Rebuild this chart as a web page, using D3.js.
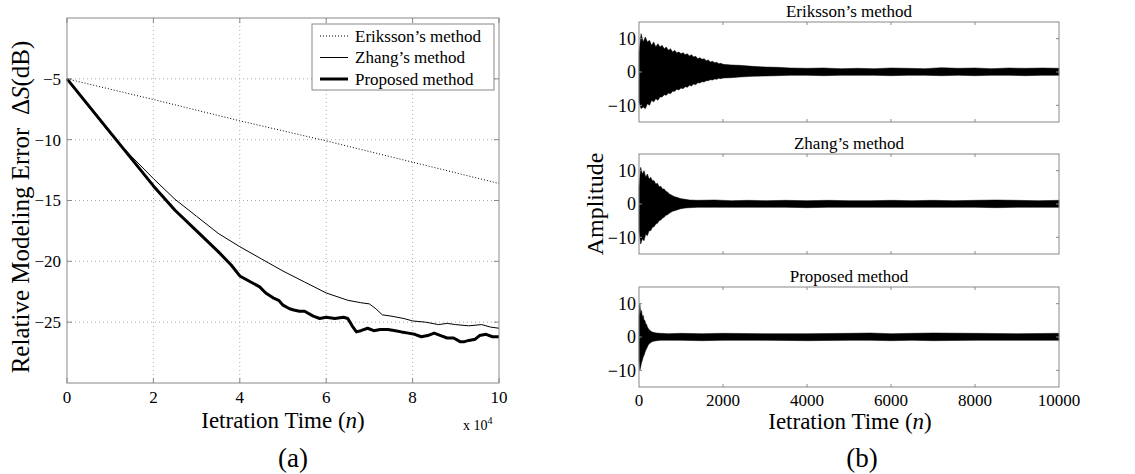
<!DOCTYPE html>
<html>
<head>
<meta charset="utf-8">
<script src="https://cdn.jsdelivr.net/npm/d3@7"></script>
<style>
  body { margin: 0; background: #fff; }
  text { font-family: "Liberation Serif", "Times New Roman", serif; fill: #000; }
</style>
</head>
<body>
<div id="chart"></div>
<script>
// ---- data (a): relative modeling error, x in units of 10^4 iterations
var erikX = [0, 2, 4, 6, 8, 10];
var erikY = [-5, -6.7, -8.45, -10.1, -11.85, -13.6];

var zhangX = [0, 0.5, 1, 1.5, 2, 2.5, 3, 3.5, 4, 4.5, 5, 5.5, 6, 6.5, 6.8, 7.0, 7.15, 7.3, 7.5, 7.8, 8.0, 8.3, 8.6, 8.8, 9.0, 9.3, 9.6, 9.8, 10];
var zhangY = [-5, -7.3, -9.5, -11.4, -13.2, -14.9, -16.3, -17.7, -18.8, -19.8, -20.8, -21.7, -22.6, -23.2, -23.4, -23.5, -23.9, -24.4, -24.5, -24.7, -24.9, -25.0, -25.2, -25.1, -25.2, -25.3, -25.2, -25.4, -25.5];

var propX = [0, 0.5, 1, 1.5, 2, 2.5, 3, 3.5, 3.8, 4.0, 4.2, 4.46, 4.6, 4.77, 4.9, 5.0, 5.15, 5.25, 5.38, 5.5, 5.7, 5.85, 6.0, 6.2, 6.4, 6.5, 6.6, 6.7, 6.8, 6.96, 7.1, 7.25, 7.43, 7.6, 7.74, 7.9, 8.05, 8.2, 8.35, 8.5, 8.65, 8.8, 8.95, 9.1, 9.2, 9.3, 9.45, 9.55, 9.7, 9.85, 10];
var propY = [-5, -7.2, -9.4, -11.6, -13.8, -15.8, -17.5, -19.2, -20.3, -21.2, -21.6, -22.1, -22.6, -23.0, -23.2, -23.6, -23.9, -24.0, -24.1, -24.1, -24.5, -24.7, -24.6, -24.7, -24.6, -24.7, -25.3, -25.8, -25.7, -25.5, -25.7, -25.6, -25.6, -25.7, -25.8, -25.9, -26.0, -26.2, -26.1, -25.9, -26.1, -26.3, -26.3, -26.6, -26.6, -26.5, -26.4, -26.1, -26.0, -26.2, -26.2];

var xTicksA = [0, 2, 4, 6, 8, 10];
var yTicksA = [-5, -10, -15, -20, -25];
var legendNames = ["Eriksson\u2019s method", "Zhang\u2019s method", "Proposed method"];

// ---- data (b): residual error signal envelopes (max / min per stretch of samples)
var panelTitles = ["Eriksson\u2019s method", "Zhang\u2019s method", "Proposed method"];

var erikEnvN  = [0, 50, 100, 150, 200, 250, 300, 350, 400, 450, 500, 550, 600, 650, 700, 750, 800, 850, 900, 950, 1000, 1050, 1100, 1150, 1200, 1250, 1300, 1350, 1400, 1450, 1500, 1550, 1600, 1650, 1700, 1750, 1800, 1850, 1900, 1950, 2000, 2200, 2400, 2700, 3000, 3300, 3600, 4000, 4400, 4800, 5200, 5600, 6000, 6400, 6800, 7200, 7600, 8000, 8400, 8800, 9200, 9600, 10000];
var erikEnvHi = [6, 11.5, 9, 10.5, 9, 9.5, 8, 9, 7.5, 8.5, 7.5, 8, 7, 7.5, 6.5, 7, 6, 6.5, 5.8, 6, 5.5, 5.8, 5.2, 5.5, 4.8, 5.2, 4.5, 4.7, 4.0, 4.3, 3.8, 4.0, 3.4, 3.6, 3.0, 3.2, 2.8, 2.9, 2.5, 2.6, 2.3, 2.1, 2.0, 1.7, 1.5, 1.4, 1.2, 1.1, 1.2, 1.0, 1.1, 1.0, 1.2, 1.1, 1.0, 1.3, 1.1, 1.2, 1.0, 1.2, 1.1, 1.2, 1.1];
var erikEnvLo = [-9, -11, -10.5, -11, -9.5, -10, -8.5, -9, -8, -8.5, -7.5, -7.5, -6.8, -7, -6.3, -6.5, -5.8, -5.8, -5.2, -5.4, -4.8, -5, -4.4, -4.6, -4.0, -4.2, -3.6, -3.8, -3.2, -3.3, -2.9, -3.0, -2.6, -2.6, -2.3, -2.4, -2.1, -2.2, -1.9, -2.0, -1.8, -1.7, -1.5, -1.3, -1.2, -1.1, -1.0, -1.0, -1.1, -1.0, -1.0, -1.0, -1.1, -1.0, -1.0, -1.1, -1.0, -1.1, -1.0, -1.0, -1.1, -1.0, -1.0];

var zhangEnvN  = [0, 40, 80, 120, 160, 200, 240, 280, 320, 360, 400, 440, 480, 520, 560, 600, 640, 680, 720, 760, 800, 850, 900, 950, 1000, 1100, 1200, 1400, 1800, 2200, 2600, 3000, 3500, 4000, 4500, 5000, 5500, 6000, 6500, 7000, 7500, 8000, 8500, 9000, 9500, 10000];
var zhangEnvHi = [5, 11, 9, 10, 8, 9, 7.5, 8, 7, 7, 6, 6.2, 5.2, 5.3, 4.5, 4.5, 3.8, 3.6, 3.0, 2.8, 2.5, 2.2, 2.0, 1.8, 1.6, 1.4, 1.2, 1.1, 1.2, 1.0, 1.1, 1.0, 1.1, 1.0, 1.1, 1.0, 1.0, 1.1, 1.0, 1.1, 1.0, 1.1, 1.2, 1.1, 1.0, 1.1];
var zhangEnvLo = [-8, -12, -10.5, -11, -9, -9.5, -8, -8, -7, -6.8, -6, -5.8, -5, -4.8, -4.2, -4, -3.4, -3.2, -2.8, -2.5, -2.2, -2.0, -1.8, -1.6, -1.4, -1.2, -1.1, -1.0, -1.0, -1.0, -1.0, -1.0, -1.0, -1.1, -1.0, -1.0, -1.0, -1.0, -1.0, -1.0, -1.0, -1.0, -1.1, -1.0, -1.0, -1.0];

var propEnvN  = [0, 20, 40, 60, 80, 100, 120, 140, 160, 180, 200, 220, 240, 260, 280, 300, 340, 380, 420, 500, 700, 1000, 1500, 2000, 3000, 4000, 5000, 5500, 6000, 6500, 7000, 8000, 9000, 10000];
var propEnvHi = [6, 10, 7, 8, 6, 6.5, 5, 5, 4, 3.8, 3, 2.6, 2.2, 2, 1.8, 1.6, 1.4, 1.3, 1.2, 1.1, 1.0, 1.1, 1.0, 1.1, 1.0, 1.0, 1.1, 1.2, 1.0, 1.1, 1.2, 1.1, 1.0, 1.1];
var propEnvLo = [-7, -10, -9, -7.7, -7, -6, -5.5, -4.7, -4, -3.5, -3, -2.4, -2.1, -1.9, -1.7, -1.5, -1.3, -1.2, -1.1, -1.0, -1.0, -1.0, -1.1, -1.0, -1.0, -1.1, -1.0, -1.0, -1.1, -1.0, -1.1, -1.0, -1.0, -1.0];

var xTicksB = [0, 2000, 4000, 6000, 8000, 10000];
var yTicksB = [-10, 0, 10];

var svg = d3.select("#chart").append("svg")
  .attr("width", 1135)
  .attr("height", 474);

var minus = v => (v < 0 ? "\u2212" + Math.abs(v) : "" + v);

// ================= (a) =================
var A = { left: 67, top: 18, width: 432, height: 365 };
var xa = d3.scaleLinear().domain([0, 10]).range([0, A.width]);
var ya = d3.scaleLinear().domain([-30, 0]).range([A.height, 0]);

var ga = svg.append("g").attr("transform", "translate(" + A.left + "," + A.top + ")");

// grid
ga.selectAll(".gx").data(xTicksA.slice(1, -1)).enter().append("line")
  .attr("x1", d => xa(d)).attr("x2", d => xa(d))
  .attr("y1", 0).attr("y2", A.height)
  .attr("stroke", "#aaa").attr("stroke-width", 1).attr("stroke-dasharray", "1,3");
ga.selectAll(".gy").data(yTicksA).enter().append("line")
  .attr("x1", 0).attr("x2", A.width)
  .attr("y1", d => ya(d)).attr("y2", d => ya(d))
  .attr("stroke", "#aaa").attr("stroke-width", 1).attr("stroke-dasharray", "1,3");

// curves
var lineA = d3.line().x(d => xa(d[0])).y(d => ya(d[1]));
ga.append("path").datum(d3.zip(erikX, erikY)).attr("d", lineA)
  .attr("fill", "none").attr("stroke", "#000").attr("stroke-width", 1).attr("stroke-dasharray", "1,2");
ga.append("path").datum(d3.zip(zhangX, zhangY)).attr("d", lineA)
  .attr("fill", "none").attr("stroke", "#000").attr("stroke-width", 1);
ga.append("path").datum(d3.zip(propX, propY)).attr("d", lineA)
  .attr("fill", "none").attr("stroke", "#000").attr("stroke-width", 3).attr("stroke-linejoin", "round");

// box and inner ticks
ga.append("rect").attr("width", A.width).attr("height", A.height)
  .attr("fill", "none").attr("stroke", "#888").attr("stroke-width", 1);
xTicksA.forEach(function (t) {
  ga.append("line").attr("x1", xa(t)).attr("x2", xa(t)).attr("y1", A.height).attr("y2", A.height - 5).attr("stroke", "#888");
  ga.append("line").attr("x1", xa(t)).attr("x2", xa(t)).attr("y1", 0).attr("y2", 5).attr("stroke", "#888");
});
yTicksA.forEach(function (t) {
  ga.append("line").attr("x1", 0).attr("x2", 5).attr("y1", ya(t)).attr("y2", ya(t)).attr("stroke", "#888");
  ga.append("line").attr("x1", A.width).attr("x2", A.width - 5).attr("y1", ya(t)).attr("y2", ya(t)).attr("stroke", "#888");
});

// tick labels
ga.selectAll(".xl").data(xTicksA).enter().append("text")
  .attr("x", d => xa(d)).attr("y", A.height + 20)
  .attr("text-anchor", "middle").style("font-size", "17px").text(d => d);
ga.selectAll(".yl").data(yTicksA).enter().append("text")
  .attr("x", -6).attr("y", d => ya(d)).attr("dy", "0.35em")
  .attr("text-anchor", "end").style("font-size", "17px").text(d => minus(d));

// exponent
var ex = ga.append("text").attr("x", A.width - 36).attr("y", A.height + 47).style("font-size", "14px");
ex.append("tspan").text("x 10");
ex.append("tspan").attr("dy", -6).style("font-size", "10px").text("4");

// axis labels
var xla = svg.append("text").attr("x", 283).attr("y", 428).attr("text-anchor", "middle").style("font-size", "23px");
xla.append("tspan").text("Ietration Time (");
xla.append("tspan").style("font-style", "italic").text("n");
xla.append("tspan").text(")");

var yla = svg.append("text").attr("transform", "translate(29,207) rotate(-90)")
  .attr("text-anchor", "middle").style("font-size", "25px").attr("xml:space", "preserve");
yla.append("tspan").text("Relative Modeling Error \u00a0\u0394");
yla.append("tspan").style("font-style", "italic").text("S");
yla.append("tspan").text("(dB)");

svg.append("text").attr("x", 293).attr("y", 467).attr("text-anchor", "middle").style("font-size", "27px").text("(a)");

// legend
var lg = ga.append("g").attr("transform", "translate(245,6)");
lg.append("rect").attr("width", 182).attr("height", 66)
  .attr("fill", "#fff").attr("stroke", "#888").attr("stroke-width", 1);
var legendStyle = [
  { w: 1, dash: "1,2" },
  { w: 1, dash: null },
  { w: 3, dash: null }
];
legendNames.forEach(function (name, i) {
  var yy = 12 + i * 21.5;
  lg.append("line").attr("x1", 8).attr("x2", 36).attr("y1", yy).attr("y2", yy)
    .attr("stroke", "#000").attr("stroke-width", legendStyle[i].w)
    .attr("stroke-dasharray", legendStyle[i].dash);
  lg.append("text").attr("x", 43).attr("y", yy).attr("dy", "0.35em")
    .style("font-size", "17px").text(name);
});

// ================= (b) =================
var B = { left: 639, width: 420, height: 100, tops: [22, 154, 287] };
var xb = d3.scaleLinear().domain([0, 10000]).range([0, B.width]);
var yb = d3.scaleLinear().domain([-15, 15]).range([B.height, 0]);

var envs = [
  [erikEnvN, erikEnvHi, erikEnvLo],
  [zhangEnvN, zhangEnvHi, zhangEnvLo],
  [propEnvN, propEnvHi, propEnvLo]
];

var areaB = d3.area().x(d => xb(d[0])).y0(d => yb(d[2])).y1(d => yb(d[1]));

envs.forEach(function (env, p) {
  var g = svg.append("g").attr("transform", "translate(" + B.left + "," + B.tops[p] + ")");

  g.append("path").datum(d3.zip(env[0], env[1], env[2])).attr("d", areaB)
    .attr("fill", "#000").attr("stroke", "#000").attr("stroke-width", 0.5);

  g.append("rect").attr("width", B.width).attr("height", B.height)
    .attr("fill", "none").attr("stroke", "#888").attr("stroke-width", 1);

  xTicksB.slice(1, -1).forEach(function (t) {
    g.append("line").attr("x1", xb(t)).attr("x2", xb(t)).attr("y1", B.height).attr("y2", B.height - 3).attr("stroke", "#888");
    g.append("line").attr("x1", xb(t)).attr("x2", xb(t)).attr("y1", 0).attr("y2", 3).attr("stroke", "#888");
  });
  yTicksB.forEach(function (t) {
    g.append("line").attr("x1", 0).attr("x2", 3).attr("y1", yb(t)).attr("y2", yb(t)).attr("stroke", "#888");
    g.append("line").attr("x1", B.width).attr("x2", B.width - 3).attr("y1", yb(t)).attr("y2", yb(t)).attr("stroke", "#888");
  });

  g.selectAll(".yl").data(yTicksB).enter().append("text")
    .attr("x", -3).attr("y", d => yb(d)).attr("dy", "0.35em")
    .attr("text-anchor", "end").style("font-size", "18px").text(d => minus(d));

  g.append("text").attr("x", B.width / 2).attr("y", -5)
    .attr("text-anchor", "middle").style("font-size", "17px").text(panelTitles[p]);

  if (p === 2) {
    g.selectAll(".xl").data(xTicksB).enter().append("text")
      .attr("x", d => xb(d)).attr("y", B.height + 19)
      .attr("text-anchor", "middle").style("font-size", "17px").text(d => d);
  }
});

var xlb = svg.append("text").attr("x", 850).attr("y", 429).attr("text-anchor", "middle").style("font-size", "23px");
xlb.append("tspan").text("Ietration Time (");
xlb.append("tspan").style("font-style", "italic").text("n");
xlb.append("tspan").text(")");

svg.append("text").attr("transform", "translate(603,204) rotate(-90)")
  .attr("text-anchor", "middle").style("font-size", "24px").text("Amplitude");

svg.append("text").attr("x", 862).attr("y", 467).attr("text-anchor", "middle").style("font-size", "27px").text("(b)");
</script>
</body>
</html>
